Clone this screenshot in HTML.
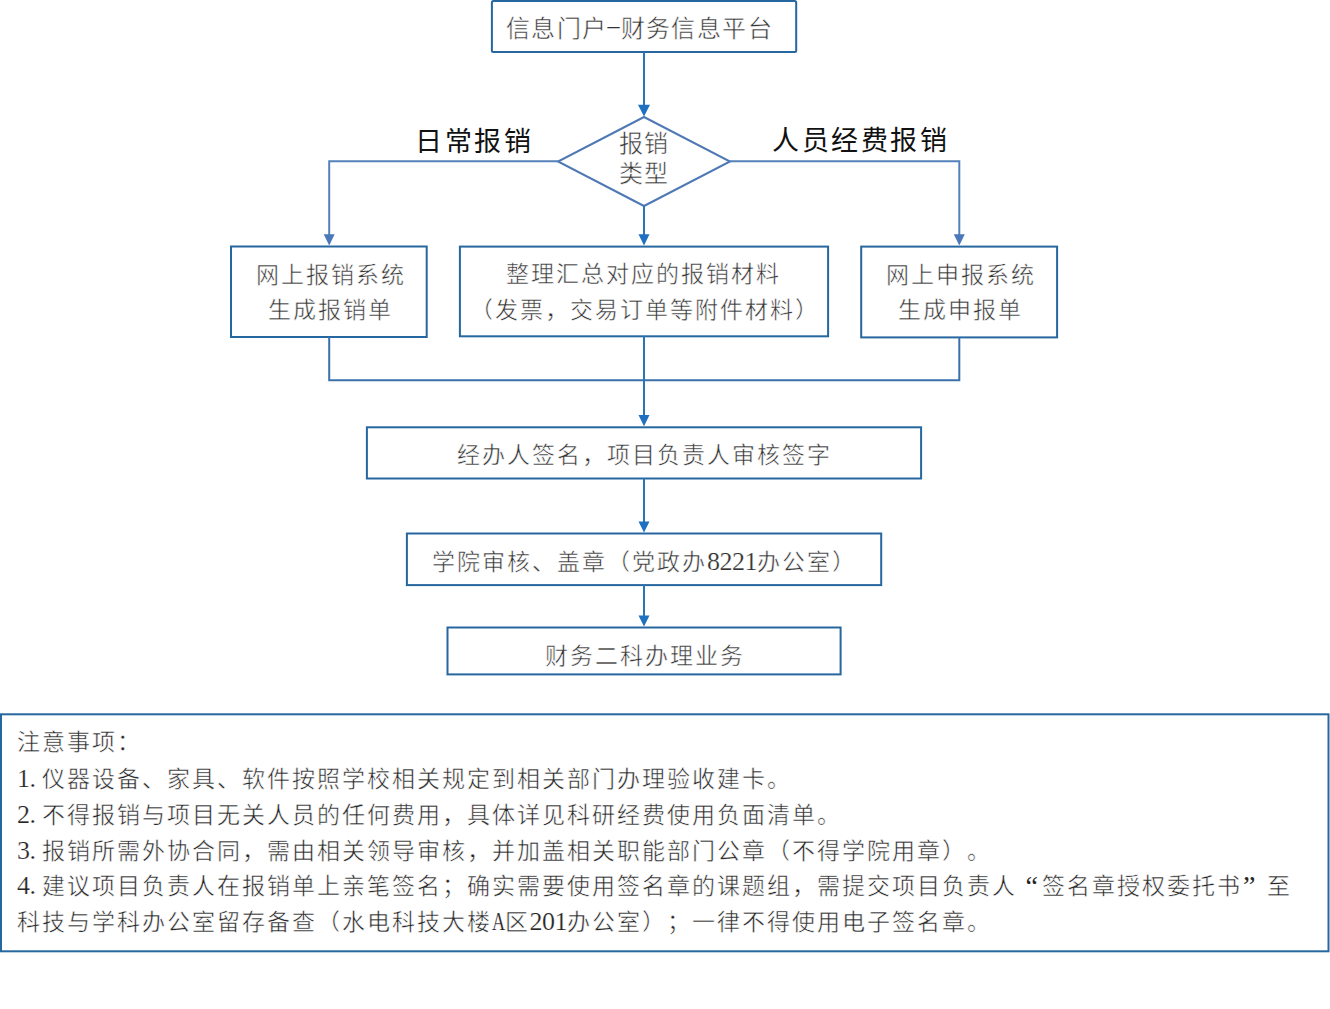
<!DOCTYPE html>
<html lang="zh-CN">
<head>
<meta charset="utf-8">
<style>
html,body{margin:0;padding:0;background:#fff;}
body{width:1330px;height:1009px;position:relative;overflow:hidden;font-family:"Liberation Serif",serif;text-spacing-trim:space-all;}
svg{position:absolute;left:0;top:0;}
.t{position:absolute;white-space:nowrap;font-size:23px;line-height:23px;letter-spacing:2px;color:#333;-webkit-text-stroke:0.5px #fff;}
.big{font-size:24px;line-height:24px;letter-spacing:1.4px;}
.lab{position:absolute;white-space:nowrap;font-size:27px;line-height:27px;letter-spacing:2.6px;color:#111;}
.n{position:absolute;white-space:nowrap;font-size:23px;line-height:23px;letter-spacing:2px;color:#262626;-webkit-text-stroke:0.5px #fff;}
.h{display:inline-block;width:12.5px;letter-spacing:0;}
.q{display:inline-block;width:25px;letter-spacing:0;font-size:28px;line-height:23px;vertical-align:top;-webkit-text-stroke:0;box-sizing:border-box;padding-left:1px;}
.qr{display:inline-block;width:25px;letter-spacing:0;text-align:right;font-size:28px;line-height:23px;vertical-align:top;-webkit-text-stroke:0;box-sizing:border-box;padding-right:4px;}
.A{display:inline-block;width:12.5px;letter-spacing:0;font-size:24px;transform:scaleX(.7);transform-origin:0 0;}
.d{letter-spacing:-0.5px;font-size:26px;-webkit-text-stroke:0.2px #fff;}
</style>
</head>
<body>
<svg width="1330" height="1009" viewBox="0 0 1330 1009">
  <g fill="none" stroke="#26679f" stroke-width="2">
    <rect x="491.9" y="1" width="304.3" height="51" rx="1.5"/>
    <rect x="231" y="246.5" width="195.7" height="90.5"/>
    <rect x="459.9" y="246.6" width="368.2" height="89.7"/>
    <rect x="861.2" y="246.6" width="195.9" height="90.8"/>
    <rect x="366.9" y="427.3" width="554.2" height="51.2"/>
    <rect x="406.9" y="533.5" width="474.3" height="51.6"/>
    <rect x="447.5" y="627.5" width="393.1" height="46.9"/>
    <rect x="1" y="714.3" width="1327.5" height="237"/>
  </g>
  <polygon points="644,117 730,161.5 644,206 558,161.5" fill="none" stroke="#4f79b5" stroke-width="2"/>
  <g fill="none" stroke="#5581bb" stroke-width="2">
    <polyline points="558,161.3 329.2,161.3 329.2,235"/>
    <polyline points="730,161.3 959.3,161.3 959.3,235"/>
  </g>
  <g fill="none" stroke="#3a71aa" stroke-width="2">
    <polyline points="329.2,337 329.2,380.3 959.3,380.3 959.3,337.4"/>
  </g>
  <g fill="none" stroke="#2a74b8" stroke-width="2">
    <line x1="644" y1="52" x2="644" y2="106"/>
    <line x1="644" y1="206" x2="644" y2="235"/>
    <line x1="644" y1="336" x2="644" y2="416"/>
    <line x1="644" y1="478.5" x2="644" y2="522"/>
    <line x1="644" y1="585" x2="644" y2="616"/>
  </g>
  <g fill="#4a78b8">
    <polygon points="323.7,234.3 334.7,234.3 329.2,245.5"/>
    <polygon points="953.8,234.3 964.8,234.3 959.3,245.5"/>
  </g>
  <g fill="#1f70c0">
    <polygon points="638,104.7 650,104.7 644,116.5"/>
    <polygon points="638.5,234.3 649.5,234.3 644,245.5"/>
    <polygon points="638.5,415 649.5,415 644,426.3"/>
    <polygon points="638.5,521.5 649.5,521.5 644,532.5"/>
    <polygon points="638.5,615.4 649.5,615.4 644,626.5"/>
  </g>
</svg>

<div class="t big" style="left:506px;top:17px;">信息门户<span class="h" style="width:13px;position:relative;top:-4px;-webkit-text-stroke:0">–</span>财务信息平台</div>
<div class="t big" style="left:619px;top:132px;">报销</div>
<div class="t big" style="left:619px;top:162px;">类型</div>
<div class="lab" style="left:415px;top:129px;">日常报销</div>
<div class="lab" style="left:772px;top:128px;">人员经费报销</div>

<div class="t" style="left:256px;top:264px;">网上报销系统</div>
<div class="t" style="left:268px;top:299px;">生成报销单</div>
<div class="t" style="left:506px;top:263px;">整理汇总对应的报销材料</div>
<div class="t" style="left:470px;top:299px;">（发票，交易订单等附件材料）</div>
<div class="t" style="left:886px;top:264px;">网上申报系统</div>
<div class="t" style="left:898px;top:299px;">生成申报单</div>

<div class="t" style="left:457px;top:444px;">经办人签名，项目负责人审核签字</div>
<div class="t" style="left:432px;top:550px;">学院审核、盖章（党政办<span class="d">8221</span>办公室）</div>
<div class="t" style="left:545px;top:645px;">财务二科办理业务</div>

<div class="n" style="left:17px;top:731px;">注意事项：</div>
<div class="n" style="left:17px;top:767px;"><span class="d">1</span><span class="d h">.</span>仪器设备、家具、软件按照学校相关规定到相关部门办理验收建卡。</div>
<div class="n" style="left:17px;top:803px;"><span class="d">2</span><span class="d h">.</span>不得报销与项目无关人员的任何费用，具体详见科研经费使用负面清单。</div>
<div class="n" style="left:17px;top:838.5px;"><span class="d">3</span><span class="d h">.</span>报销所需外协合同，需由相关领导审核，并加盖相关职能部门公章（不得学院用章）。</div>
<div class="n" style="left:17px;top:874px;"><span class="d">4</span><span class="d h">.</span>建议项目负责人在报销单上亲笔签名；确实需要使用签名章的课题组，需提交项目负责人<span class="qr">“</span>签名章授权委托书<span class="q">”</span>至</div>
<div class="n" style="left:17px;top:910px;">科技与学科办公室留存备查（水电科技大楼<span class="d A">A</span>区<span class="d">201</span>办公室）；一律不得使用电子签名章。</div>
</body>
</html>
